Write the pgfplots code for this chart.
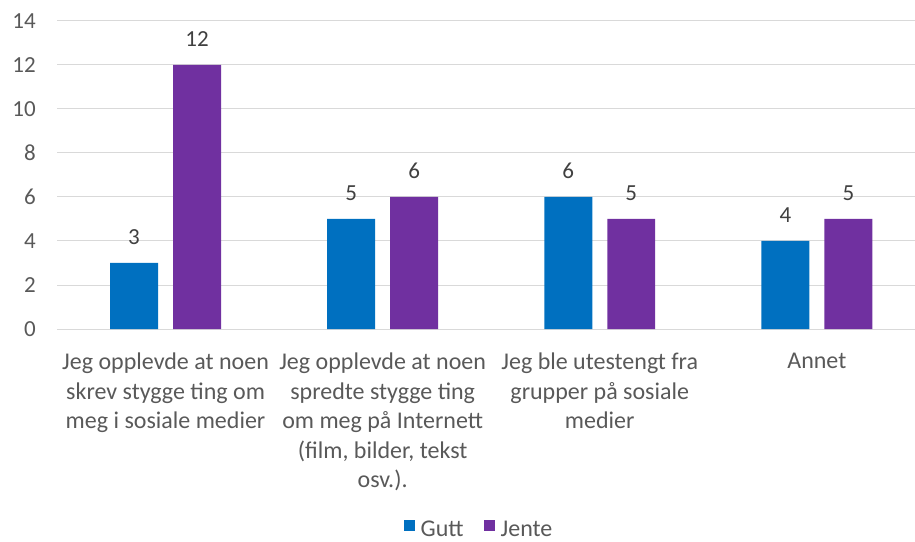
\documentclass[border=0pt]{standalone}
\usepackage{pgfplots}
\pgfplotsset{compat=1.18}
\usepackage{fontspec}
\setmainfont{Carlito}
\definecolor{gutt}{HTML}{0070C0}
\definecolor{jente}{HTML}{7030A0}
\definecolor{gridc}{HTML}{D9D9D9}
\definecolor{txt}{HTML}{595959}
\definecolor{lab}{HTML}{404040}
\begin{document}
\begin{tikzpicture}
\useasboundingbox (0,0) rectangle (915pt,541pt);
\begin{axis}[
  at={(57pt,212pt)}, anchor=south west,
  scale only axis,
  width=858pt, height=308pt,
  xmin=-0.5, xmax=3.452,
  ymin=0, ymax=14,
  ytick={0,2,...,14},
  xtick={0,1,2,3},
  xticklabels={{Jeg opplevde at noen\\skrev stygge ting om\\meg i sosiale medier},
               {Jeg opplevde at noen\\spredte stygge ting\\om meg på Internett\\(film, bilder, tekst\\osv.).},
               {Jeg ble utestengt fra\\grupper på sosiale\\medier},
               {Annet}},
  axis line style={draw=none},
  major tick length=0pt,
  ymajorgrids,
  grid style={gridc, line width=1pt},
  /pgf/number format/assume math mode=true,
  yticklabel style={font=\fontsize{23}{28}\selectfont, text=txt, anchor=east, inner sep=0pt, xshift=-21pt},
  xticklabel style={font=\fontsize{24}{29.5}\selectfont, text=txt, align=center, anchor=north, inner sep=0pt, yshift=-24pt},
  ybar, bar width=0.221,
  nodes near coords,
  every node near coord/.append style={font=\fontsize{23}{28}\selectfont, text=lab, anchor=south, inner sep=0pt, yshift=18pt},
  legend style={at={(axis description cs:0.4907,-0.650)}, anchor=center, draw=none,
    legend columns=2, font=\fontsize{24}{28}\selectfont, text=txt,
    nodes={inner sep=0pt},
    /tikz/every odd column/.style={column sep=6pt},
    /tikz/every even column/.style={column sep=20pt}},
  legend image code/.code={\fill[#1] (0pt,-1pt) rectangle (11pt,10pt);},
]
\addplot[fill=gutt, draw=none, bar shift=-0.145] coordinates {(0,3) (1,5) (2,6) (3,4)};
\addplot[fill=jente, draw=none, bar shift=0.145] coordinates {(0,12) (1,6) (2,5) (3,5)};
\legend{Gutt, Jente}
\end{axis}
\end{tikzpicture}
\end{document}
